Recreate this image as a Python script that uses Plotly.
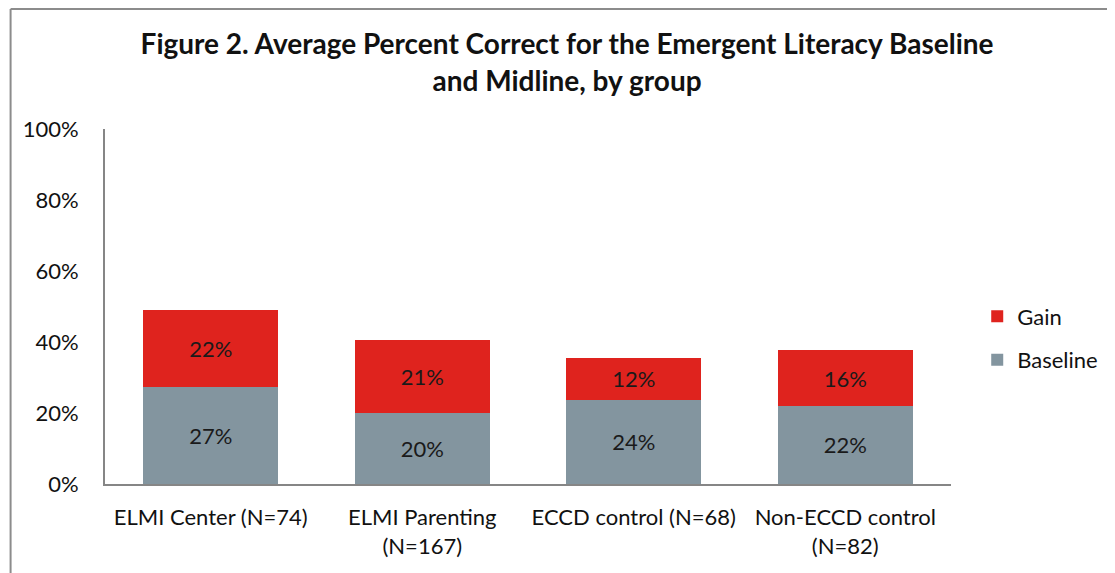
import plotly.graph_objects as go

categories = ["ELMI Center (N=74)", "ELMI Parenting<br>(N=167)", "ECCD control (N=68)", "Non-ECCD control<br>(N=82)"]
baseline = [27.3, 20.0, 23.7, 22.0]
gain = [21.6, 20.6, 11.8, 15.7]
y_ticks = [0, 20, 40, 60, 80, 100]
y_tick_labels = ["0%", "20%", "40%", "60%", "80%", "100%"]

FONT = "Lato, 'Open Sans', sans-serif"
FS = 22

fig = go.Figure()
fig.add_trace(go.Bar(
    x=categories, y=baseline, name="Baseline",
    marker=dict(color="#83959f", line=dict(width=0)),
    texttemplate="%{y:.0f}%", textposition="inside", insidetextanchor="middle",
    textfont=dict(size=FS, color="#1a1a1a", family=FONT),
    legendgroup="b", legendrank=2,
))
fig.add_trace(go.Bar(
    x=categories, y=gain, name="Gain",
    marker=dict(color="#df231e", line=dict(width=0)),
    texttemplate="%{y:.0f}%", textposition="inside", insidetextanchor="middle",
    textfont=dict(size=FS, color="#1a1a1a", family=FONT),
    legendgroup="g", legendrank=1,
))

fig.update_layout(
    barmode="stack",
    bargap=0.36,
    width=1107, height=565,
    margin=dict(l=97, r=159, t=121, b=89),
    paper_bgcolor="white", plot_bgcolor="white",
    font=dict(family=FONT, size=FS, color="#111111"),
    title=dict(
        text="<b>Figure 2. Average Percent Correct for the Emergent Literacy Baseline<br>and Midline, by group</b>",
        x=0.505, xref="container", xanchor="center", y=0.918, yanchor="middle",
        font=dict(size=28, family=FONT, color="#111111"),
    ),
    legend=dict(
        x=1.031, xanchor="left", y=0.41, yanchor="middle",
        font=dict(size=FS, family=FONT), tracegroupgap=12,
        itemwidth=30, bgcolor="rgba(0,0,0,0)",
    ),
    xaxis=dict(showline=True, linecolor="#868686", linewidth=2, ticks="",
               tickfont=dict(size=FS), showgrid=False, ticklabelstandoff=13),
    yaxis=dict(range=[0, 100], tickvals=y_ticks, ticktext=y_tick_labels,
               showline=True, linecolor="#868686", linewidth=2, showgrid=False,
               ticks="", ticklen=0, tickfont=dict(size=FS), zeroline=False,
               ticklabelstandoff=20),
    shapes=[
        dict(type="line", xref="paper", yref="paper", x0=-0.1116, x1=1.2, y0=1.338, y1=1.338,
             line=dict(color="#8c8c8c", width=2)),
        dict(type="line", xref="paper", yref="paper", x0=-0.1116, x1=-0.1116, y0=1.338, y1=-0.3,
             line=dict(color="#8c8c8c", width=2)),
    ],
)

fig.write_html("out.html")
